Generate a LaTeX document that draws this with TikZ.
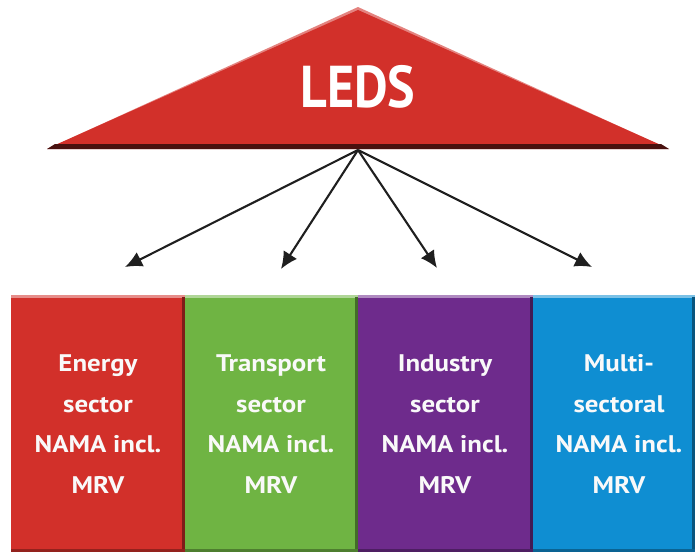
\documentclass[tikz,border=0pt]{standalone}
\usepackage{fontspec}
\setmainfont{PT Sans}
\definecolor{cred}{HTML}{D2302A}
\definecolor{cgreen}{HTML}{6FB443}
\definecolor{cpurple}{HTML}{6E2B8C}
\definecolor{cblue}{HTML}{0F8ED2}
\usetikzlibrary{arrows.meta}
\begin{document}
\begin{tikzpicture}[x=1pt,y=-1pt,
  sectorbox/.style={minimum width=#1, minimum height=257pt, inner sep=0pt, anchor=north west},
  sectortext/.style={text=white!95!gray, font=\bfseries\fontsize{24}{40.5}\selectfont, align=center, xscale=1.12},
  arr/.style={draw=black!88, line width=2.1pt, -{Latex[length=17pt,width=16pt]}}]
\useasboundingbox (0,0) rectangle (695,552);
% triangle
\fill[cred!60!white] (358,7) -- (669,149) -- (47,149) -- cycle;
\fill[cred] (358,10) -- (663,146) -- (53,146) -- cycle;
\fill[cred!35!black] (55,144) -- (661,144) -- (669,149) -- (47,149) -- cycle;
\node[text=white, font=\bfseries\fontsize{59}{60}\selectfont, xscale=0.88] (leds) at (358,87) {LEDS};
\coordinate (src) at (358,150);
% boxes
\foreach \name/\col/\xa/\xb in {e/cred/11/185, t/cgreen/185/358, i/cpurple/358/533, m/cblue/533/695}{
  \fill[\col] (\xa,295) rectangle (\xb,552);
  \fill[\col!55!white] (\xa,295) rectangle (\xb,298);
  \fill[\col!60!black] (\xb-3,297) rectangle (\xb,552);
  \fill[\col!70!black] (\xa,549) rectangle (\xb,552);
  \node[sectorbox=\xb-\xa] (\name) at (\xa,295) {};
}
\node[sectortext] (et) at (98,424) {Energy\\sector\\NAMA incl.\\MRV};
\node[sectortext] (tt) at (271,424) {Transport\\sector\\NAMA incl.\\MRV};
\node[sectortext] (it) at (445,424) {Industry\\sector\\NAMA incl.\\MRV};
\node[sectortext] (mt) at (619,424) {Multi-\\sectoral\\NAMA incl.\\MRV};
% arrow targets
\coordinate (a1) at (125,267);
\coordinate (a2) at (281,269);
\coordinate (a3) at (437,268);
\coordinate (a4) at (592,267);
\foreach \t in {a1,a2,a3,a4} \draw[arr] (src) -- (\t);
\end{tikzpicture}
\end{document}
